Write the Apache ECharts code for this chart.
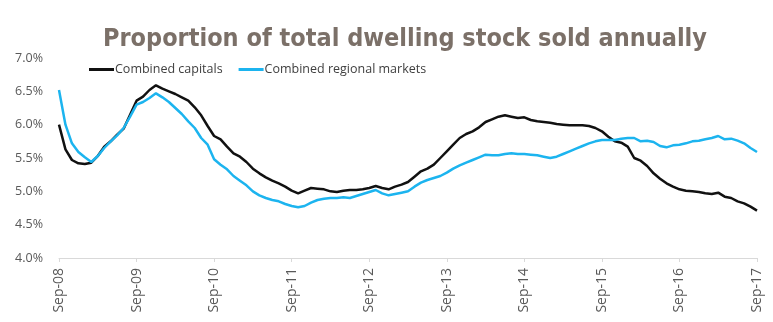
<!DOCTYPE html>
<html>
<head>
<meta charset="utf-8">
<script src="https://cdn.jsdelivr.net/npm/echarts@6/dist/echarts.min.js"></script>
<style>
html,body{margin:0;padding:0;background:#fff;}
#chart{width:773px;height:322px;}
</style>
</head>
<body>
<div id="chart"></div>
<script>
// Monthly data, Sep-08 .. Sep-17
const startYear = 2008;
const monthNames = ['Jan','Feb','Mar','Apr','May','Jun','Jul','Aug','Sep','Oct','Nov','Dec'];
const categories = [];
for (let i = 0; i <= 108; i++) {
  const m = (8 + i) % 12;
  const y = startYear + Math.floor((8 + i) / 12);
  categories.push(monthNames[m] + '-' + String(y).slice(2));
}
const seriesNames = ['Combined capitals', 'Combined regional markets'];
const capitals = [
  6.00,5.63,5.47,5.42,5.41,5.43,5.53,5.67,5.75,5.85,5.94,6.15,
  6.36,6.42,6.52,6.59,6.54,6.50,6.46,6.41,6.36,6.26,6.14,5.98,
  5.83,5.78,5.67,5.57,5.52,5.44,5.34,5.27,5.21,5.16,5.12,5.07,
  5.01,4.97,5.01,5.05,5.04,5.03,5.00,4.99,5.01,5.02,5.02,5.03,
  5.05,5.08,5.05,5.03,5.07,5.10,5.14,5.22,5.30,5.34,5.40,5.50,
  5.60,5.70,5.80,5.86,5.90,5.96,6.04,6.08,6.12,6.14,6.12,6.10,
  6.11,6.07,6.05,6.04,6.03,6.01,6.00,5.99,5.99,5.99,5.98,5.95,
  5.90,5.82,5.75,5.73,5.67,5.50,5.46,5.38,5.27,5.19,5.12,5.07,
  5.03,5.01,5.00,4.99,4.97,4.96,4.98,4.92,4.90,4.85,4.82,4.77,
  4.71
];
const regional = [
  6.52,6.00,5.72,5.59,5.51,5.44,5.53,5.65,5.75,5.84,5.95,6.12,
  6.30,6.34,6.40,6.47,6.41,6.34,6.25,6.16,6.05,5.95,5.80,5.70,
  5.48,5.40,5.33,5.23,5.16,5.09,5.00,4.94,4.90,4.87,4.85,4.81,
  4.78,4.76,4.78,4.83,4.87,4.89,4.90,4.90,4.91,4.90,4.93,4.96,
  4.99,5.02,4.97,4.94,4.96,4.98,5.00,5.07,5.13,5.17,5.20,5.23,
  5.28,5.34,5.39,5.43,5.47,5.51,5.55,5.54,5.54,5.56,5.57,5.56,
  5.56,5.55,5.54,5.52,5.50,5.52,5.56,5.60,5.64,5.68,5.72,5.75,
  5.77,5.77,5.77,5.79,5.80,5.80,5.75,5.76,5.74,5.68,5.66,5.69,
  5.70,5.72,5.75,5.76,5.78,5.80,5.83,5.78,5.79,5.76,5.72,5.65,
  5.59
];
const yTicks = [4.0, 4.5, 5.0, 5.5, 6.0, 6.5, 7.0];
const titleText = 'Proportion of total dwelling stock sold annually';

const chart = echarts.init(document.getElementById('chart'), null, {renderer: 'canvas'});
chart.setOption({
  animation: false,
  backgroundColor: '#ffffff',
  title: {
    text: titleText,
    left: 98,
    top: 22,
    textStyle: {
      fontFamily: '"DejaVu Sans Condensed", "Liberation Sans", sans-serif',
      fontWeight: 'bold',
      fontSize: 25,
      color: '#7b7068'
    }
  },
  legend: {
    left: 84,
    top: 58,
    itemWidth: 25,
    itemHeight: 3,
    itemGap: 16,
    icon: 'rect',
    data: seriesNames,
    textStyle: {
      fontFamily: '"Open Sans", "Liberation Sans", sans-serif',
      fontSize: 12.5,
      color: '#404040',
      padding: [0, 0, 0, -4]
    }
  },
  grid: {left: 59, right: 16, top: 58, bottom: 64, containLabel: false},
  xAxis: {
    type: 'category',
    data: categories,
    boundaryGap: false,
    axisLine: {lineStyle: {color: '#d9d9d9', width: 1}},
    axisTick: {
      show: true,
      length: 4,
      lineStyle: {color: '#d9d9d9'},
      interval: function (i) { return i % 12 === 0; }
    },
    axisLabel: {
      rotate: 90,
      margin: 10,
      interval: function (i) { return i % 12 === 0; },
      fontFamily: '"Open Sans", "Liberation Sans", sans-serif',
      fontSize: 14,
      color: '#595959'
    },
    splitLine: {show: false}
  },
  yAxis: {
    type: 'value',
    min: yTicks[0],
    max: yTicks[yTicks.length - 1],
    interval: 0.5,
    axisLine: {show: false},
    axisTick: {show: false},
    splitLine: {show: false},
    axisLabel: {
      margin: 16,
      formatter: function (v) { return v.toFixed(1) + '%'; },
      fontFamily: '"Open Sans", "Liberation Sans", sans-serif',
      fontSize: 12.5,
      color: '#595959'
    }
  },
  series: [
    {
      name: seriesNames[0],
      type: 'line',
      data: capitals,
      symbol: 'none',
      smooth: false,
      lineStyle: {color: '#111111', width: 2.5},
      itemStyle: {color: '#111111'}
    },
    {
      name: seriesNames[1],
      type: 'line',
      data: regional,
      symbol: 'none',
      smooth: false,
      lineStyle: {color: '#1cb4ef', width: 2.5},
      itemStyle: {color: '#1cb4ef'}
    }
  ]
});
</script>
</body>
</html>
